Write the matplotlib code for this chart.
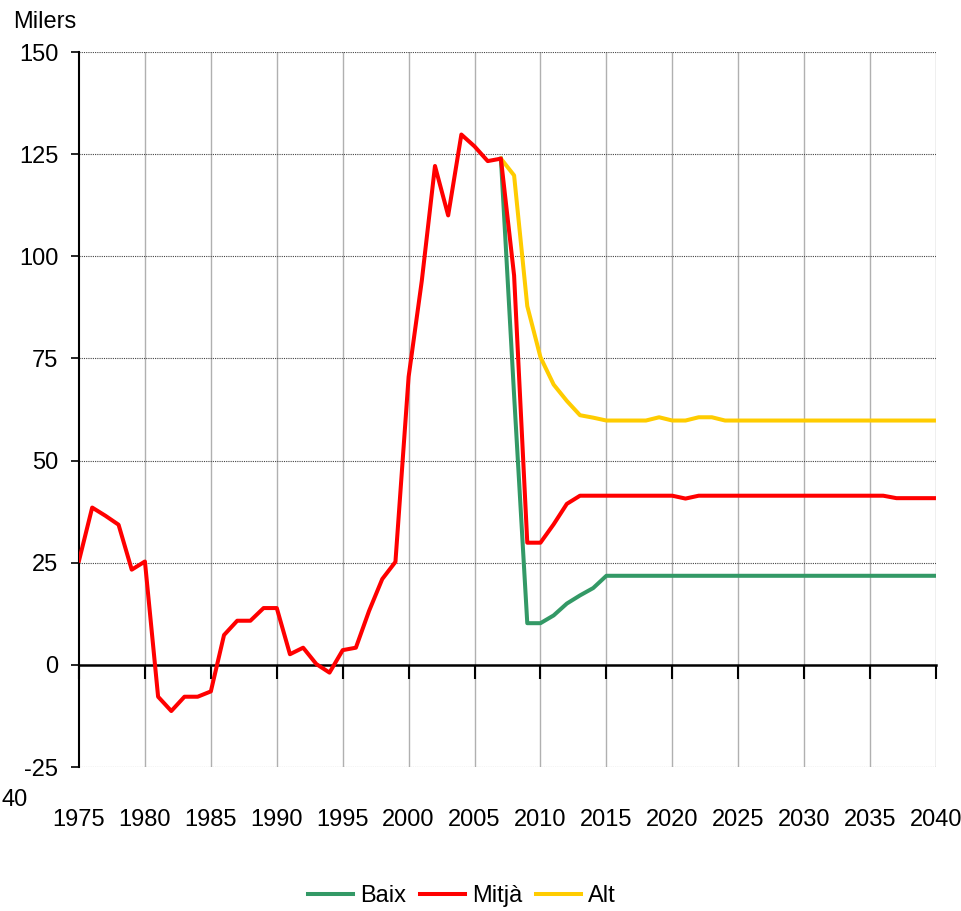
import matplotlib
matplotlib.use("Agg")
import matplotlib.pyplot as plt

plt.rcParams['font.family'] = ['Liberation Sans', 'DejaVu Sans']

# anys 1975-2040
years = list(range(1975, 2041))

# escenari mitjà (històric fins 2007 + projecció)
mitja = [25.5, 38.5, 36.5, 34.3, 23.3, 25.3, -7.8, -11.3, -7.8, -7.8,
         -6.5, 7.3, 10.8, 10.8, 13.9, 13.9, 2.6, 4.2, 0.2, -1.9,
         3.6, 4.2, 13.2, 21.0, 25.2, 70.5, 94.0, 122.1, 110.0, 129.8,
         126.9, 123.3, 123.9, 95.3, 29.9, 29.9, 34.4, 39.4, 41.4, 41.4,
         41.4, 41.4, 41.4, 41.4, 41.4, 41.4, 40.7, 41.4, 41.4, 41.4,
         41.4, 41.4, 41.4, 41.4, 41.4, 41.4, 41.4, 41.4, 41.4, 41.4,
         41.4, 41.4, 40.8, 40.8, 40.8, 40.8]

# escenaris baix i alt a partir de 2007
proj_years = list(range(2007, 2041))
baix = [123.9, 66.0, 10.2, 10.2, 12.1, 15.0, 17.0, 18.8, 21.8, 21.8,
        21.8, 21.8, 21.8, 21.8, 21.8, 21.8, 21.8, 21.8, 21.8, 21.8,
        21.8, 21.8, 21.8, 21.8, 21.8, 21.8, 21.8, 21.8, 21.8, 21.8,
        21.8, 21.8, 21.8, 21.8]
alt = [123.9, 119.8, 87.8, 75.3, 68.6, 64.6, 61.1, 60.5, 59.8, 59.8,
       59.8, 59.8, 60.6, 59.8, 59.8, 60.6, 60.6, 59.8, 59.8, 59.8,
       59.8, 59.8, 59.8, 59.8, 59.8, 59.8, 59.8, 59.8, 59.8, 59.8,
       59.8, 59.8, 59.8, 59.8]

xticks = list(range(1975, 2041, 5))
yticks = [-25, 0, 25, 50, 75, 100, 125, 150]

W, H = 961, 911
fig = plt.figure(figsize=(W / 100, H / 100), dpi=100)
ax = fig.add_axes([79 / W, 1 - 767 / H, (936 - 79) / W, (767 - 52) / H])

fs = 17

ax.plot(proj_years, baix, color='#339966', lw=2.9, label='Baix', zorder=3)
ax.plot(proj_years, alt, color='#FFCC00', lw=2.9, label='Alt', zorder=3)
ax.plot(years, mitja, color='#FF0000', lw=2.9, label='Mitjà', zorder=4)

ax.set_xlim(1975, 2040)
ax.set_ylim(-25, 150)

# graella
for x in xticks[1:]:
    ax.axvline(x, color='#b0b0b0', lw=1.0, zorder=1)
for y in yticks:
    if y != 0:
        ax.axhline(y, color='#444444', lw=0.8, ls=(0, (1, 1)), zorder=1)

for s in ['top', 'right']:
    ax.spines[s].set_visible(False)
ax.spines['left'].set_color('black')
ax.spines['left'].set_linewidth(1.5)
ax.spines['bottom'].set_position(('data', 0))
ax.spines['bottom'].set_linewidth(1.8)
ax.spines['bottom'].set_zorder(2)

ax.set_yticks(yticks)
ax.set_yticklabels([str(v) for v in yticks], fontsize=fs)
ax.tick_params(axis='y', direction='out', length=6, width=1.2, pad=9)

ax.set_xticks(xticks)
ax.set_xticklabels([])
ax.tick_params(axis='x', direction='out', length=10, width=1.5)

sec = ax.secondary_xaxis(0)
sec.set_xticks(xticks)
sec.set_xticklabels([str(v) for v in xticks], fontsize=fs)
sec.tick_params(length=0, pad=30)
sec.spines['bottom'].set_visible(False)

fig.text(13 / W, 1 - 22 / H, 'Milers', fontsize=fs, ha='left', va='center')
# resta d'etiqueta que surt a la vora esquerra de l'original
fig.text(1 / W, 1 - 800 / H, '40', fontsize=fs, ha='left', va='center')

handles, labels = ax.get_legend_handles_labels()
order = [labels.index(l) for l in ['Baix', 'Mitjà', 'Alt']]
fig.legend([handles[i] for i in order], [labels[i] for i in order],
           loc='center', bbox_to_anchor=(462 / W, 1 - 896 / H), ncol=3,
           frameon=False, fontsize=fs, handlelength=1.9, handletextpad=0.3,
           columnspacing=0.6, borderpad=0)

fig.savefig('out.png', dpi=100, facecolor='white')
